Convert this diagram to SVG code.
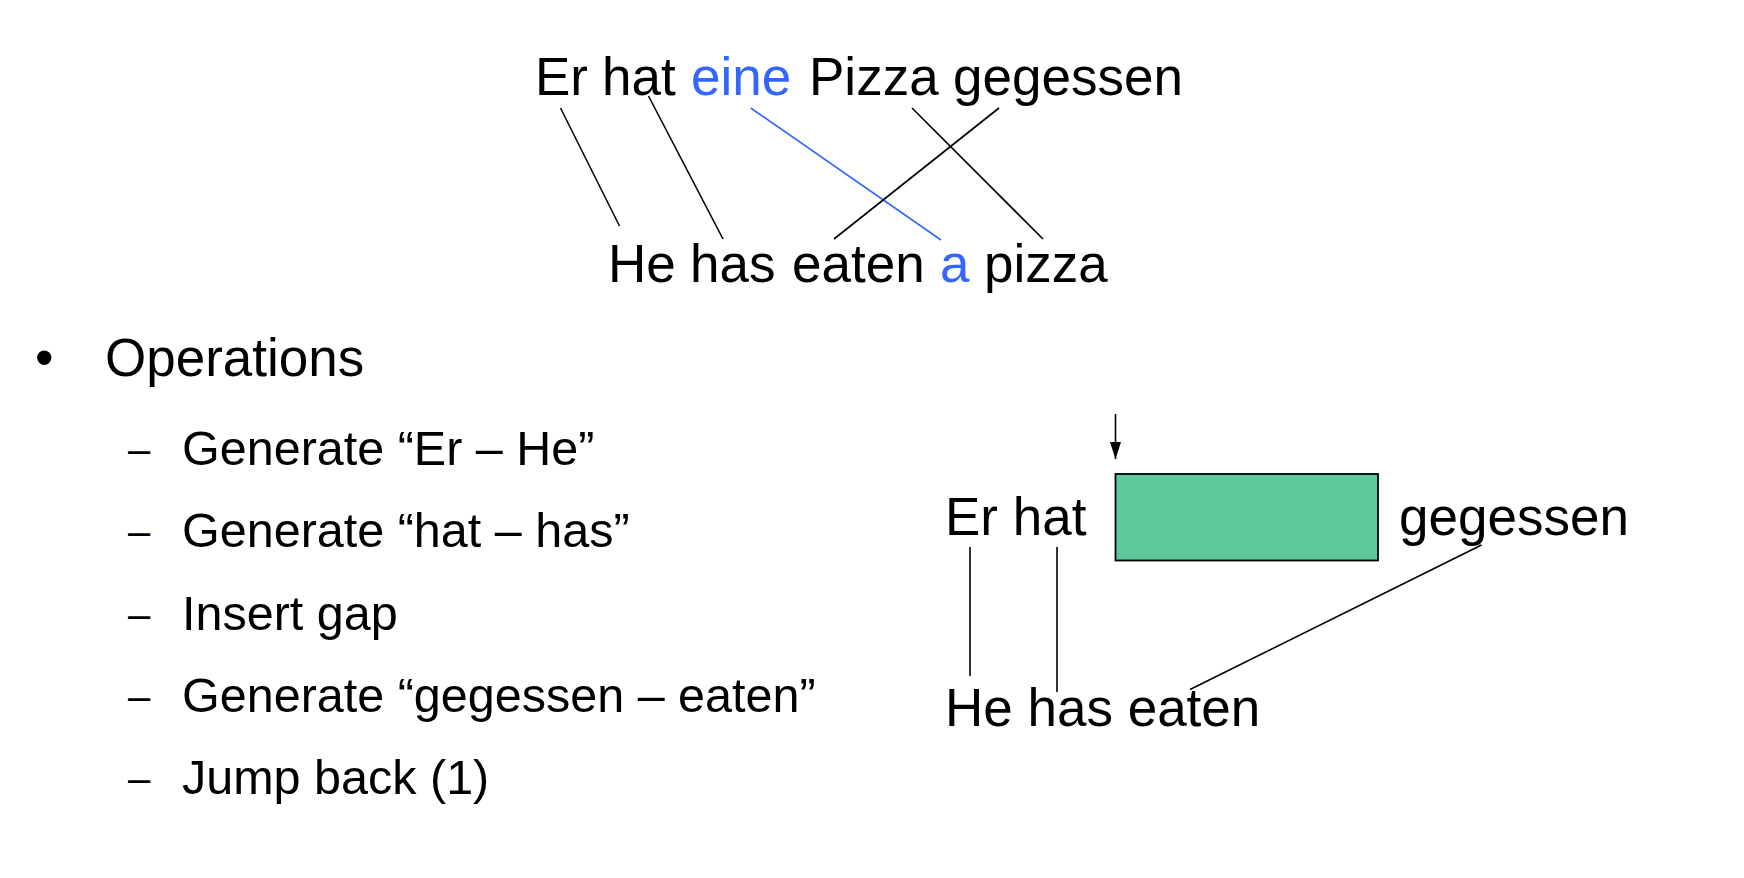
<svg xmlns="http://www.w3.org/2000/svg" width="1744" height="878" viewBox="0 0 1744 878">
<style>
  text { font-family: "Liberation Sans", Arial, Helvetica, sans-serif; fill: #000; }
  .big { font-size: 53px; }
  .item { font-size: 48.5px; }
  .dash { font-size: 40px; }
  .blue { fill: #3366ff; }
  .ln { stroke: #000; stroke-width: 1.6; fill: none; }
  .lnb { stroke: #3366ff; stroke-width: 1.6; fill: none; }
</style>
<defs>
  <marker id="ah" markerWidth="17" markerHeight="11" refX="17" refY="5.5" orient="auto" markerUnits="userSpaceOnUse" viewBox="0 0 17 11">
    <path d="M0,0 L17,5.5 L0,11 Z" fill="#000"/>
  </marker>
</defs>
<rect width="1744" height="878" fill="#fff"/>

<g id="german-sentence">
  <text class="big" y="95"><tspan x="535">Er</tspan> <tspan x="602">hat</tspan> <tspan x="691" class="blue">eine</tspan> <tspan x="809">Pizza</tspan> <tspan x="953">gegessen</tspan></text>
</g>
<g id="english-sentence">
  <text class="big" y="282"><tspan x="608">He</tspan> <tspan x="690">has</tspan> <tspan x="792">eaten</tspan> <tspan x="940" class="blue">a</tspan> <tspan x="984">pizza</tspan></text>
</g>

<g id="operations-list">
  <text class="big" x="35" y="376">•</text>
  <text class="big" x="105" y="376">Operations</text>
  <text class="dash" x="128" y="463">–</text>
  <text class="item" x="182" y="465">Generate “Er – He”</text>
  <text class="dash" x="128" y="545">–</text>
  <text class="item" x="182" y="547">Generate “hat – has”</text>
  <text class="dash" x="128" y="628">–</text>
  <text class="item" x="182" y="630">Insert gap</text>
  <text class="dash" x="128" y="710">–</text>
  <text class="item" x="182" y="712">Generate “gegessen – eaten”</text>
  <text class="dash" x="128" y="792">–</text>
  <text class="item" x="182" y="794">Jump back (1)</text>
</g>

<g id="partial-german">
  <text class="big" x="945" y="535">Er hat</text>
  <text class="big" x="1399" y="535">gegessen</text>
</g>
<g id="gap">
  <rect x="1115.5" y="474" width="262.5" height="86.5" fill="#5bc99b" stroke="#000" stroke-width="1.8"/>
</g>
<g id="partial-english">
  <text class="big" x="945" y="726">He has eaten</text>
</g>

<g id="connectors">
  <line class="ln" x1="560.5" y1="108" x2="619.5" y2="226"/>
  <line class="ln" x1="648.5" y1="96" x2="723" y2="239"/>
  <line class="lnb" x1="750.7" y1="108" x2="941" y2="240"/>
  <line class="ln" x1="912" y1="108" x2="1043" y2="239"/>
  <line class="ln" x1="999" y1="108" x2="834" y2="239"/>
  <line class="ln" x1="1115.5" y1="414" x2="1115.5" y2="459" marker-end="url(#ah)"/>
  <line class="ln" x1="970" y1="547" x2="970" y2="676"/>
  <line class="ln" x1="1057" y1="547" x2="1057" y2="692"/>
  <line class="ln" x1="1481.5" y1="545" x2="1190" y2="689.5"/>
</g>
</svg>
